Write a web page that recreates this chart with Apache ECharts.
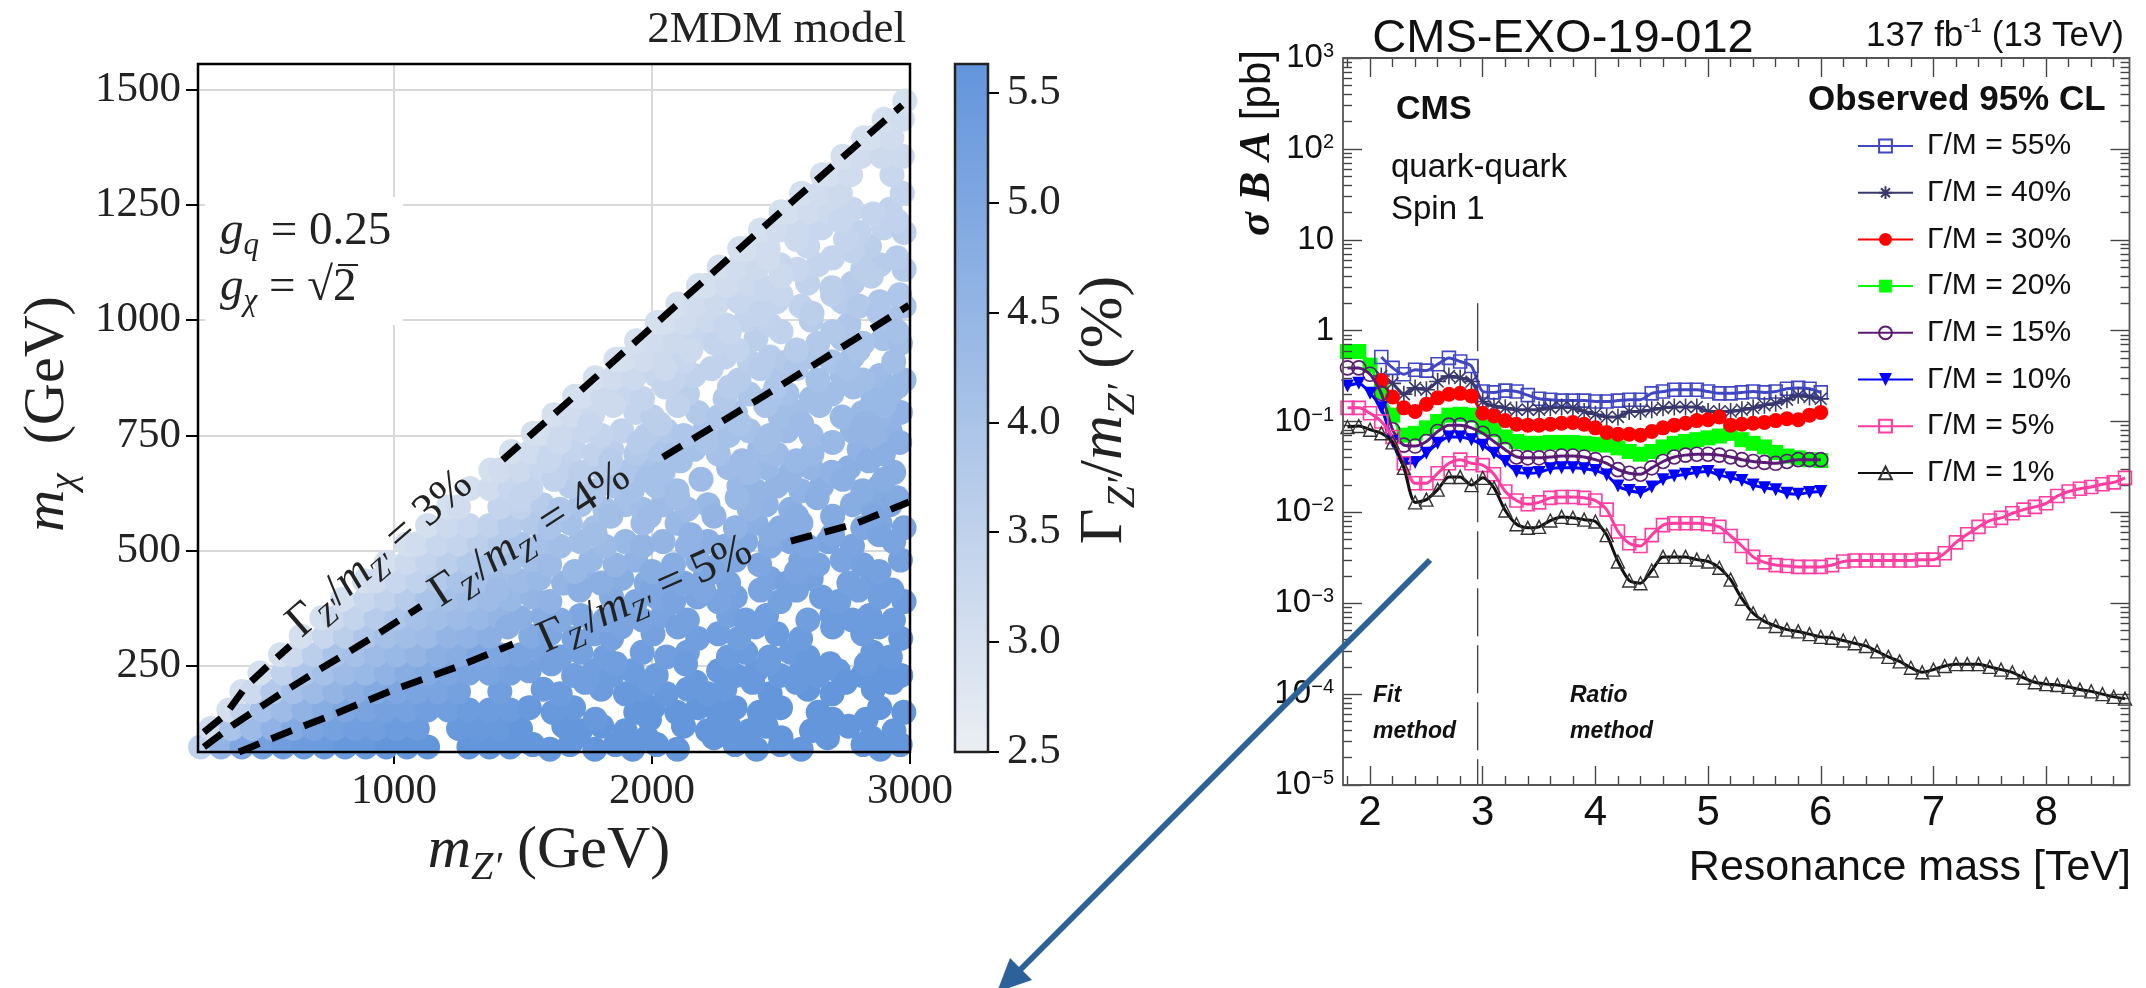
<!DOCTYPE html>
<html><head><meta charset="utf-8">
<style>html,body{margin:0;padding:0;background:#fff}#c{width:2146px;height:988px}</style>
<script src="https://cdn.jsdelivr.net/npm/echarts@6/dist/echarts.min.js"></script>
</head><body><div id="c"></div>
<script>
// ---------- left panel: 2MDM scan, each row: m_chi, then pairs m_Z', width(%)
const scanMchi=[75,80,70,115,120,110,155,160,150,195,200,190,235,240,230,275,280,270,315,320,310,355,360,350,395,400,390,435,440,430,475,480,470,515,520,510,555,560,550,595,600,590,635,640,630,675,680,670,715,720,710,755,760,750,795,800,790,835,840,830,875,880,870,915,920,910,955,960,950,995,1000,990,1035,1040,1030,1075,1080,1070,1115,1120,1110,1155,1160,1150,1195,1200,1190,1235,1240,1230,1275,1315,1355,1395,1435,1475,
95,135,215,255,335,415,455,535,575,615,655,695,735,775,815,855,895,935,975,1015,1055,1095,1135,1175,1215];
const scanPoints=[
[250,3.5,330,4.5,410,5.0,490,5.2,570,5.3,650,5.4,730,5.4,810,5.5,890,5.5,970,5.6,1050,5.6,1130,5.6,1290,5.6,1370,5.6,1450,5.6],
[1538,5.6,1682,5.6,1858,5.6,2018,5.6,2322,5.6,2498,5.6,2818,5.6,2962,5.6],
[1604,5.6,1778,5.6,1925,5.6,2098,5.6,2405,5.6,2578,5.6,2885,5.6],
[290,3.1,370,4.0,450,4.3,530,4.6,610,4.9,690,5.1,770,5.2,850,5.3,930,5.3,1010,5.4,1090,5.4,1250,5.5,1330,5.5,1410,5.5,1490,5.6],
[1658,5.6,1805,5.6,2122,5.6,2298,5.6,2442,5.6,2762,5.6,3005,5.6],
[1722,5.6,1896,5.6,2215,5.6,2378,5.6,2618,5.6,2938,5.6],
[360,3.0,410,3.5,490,4.1,570,4.3,650,4.6,730,4.8,810,5.0,890,5.1,970,5.2,1050,5.2,1130,5.3,1210,5.3,1290,5.4,1370,5.4,1450,5.4],
[1524,5.5,1696,5.5,2004,5.6,2178,5.6,2322,5.6,2498,5.6,2882,5.6],
[1616,5.5,1937,5.6,2096,5.6,2256,5.6,2416,5.6,2644,5.6,2976,5.6],
[410,3.0,450,3.2,530,3.8,610,4.1,690,4.3,770,4.5,850,4.7,930,4.9,1010,5.0,1090,5.1,1170,5.1,1250,5.2,1410,5.3],
[1578,5.4,1803,5.4,1962,5.5,2138,5.5,2282,5.5,2604,5.6,2858,5.6],
[1644,5.4,1897,5.5,2056,5.5,2216,5.5,2458,5.6,2698,5.6,3004,5.6],
[480,3.0,570,3.5,650,3.9,730,4.1,810,4.3,890,4.4,970,4.6,1050,4.8,1130,4.9,1210,5.0,1290,5.1,1370,5.1,1450,5.2],
[1524,5.2,1776,5.3,1924,5.4,2258,5.5,2404,5.5,2578,5.5,2722,5.5,2898,5.6],
[1696,5.3,1844,5.4,2016,5.4,2324,5.5,2496,5.5,2644,5.5,2816,5.6,2964,5.6],
[560,3.0,610,3.2,690,3.6,770,4.0,850,4.1,930,4.3,1010,4.4,1090,4.5,1170,4.7,1250,4.8,1330,5.0,1410,5.0,1490,5.1],
[1578,5.1,1724,5.2,1962,5.3,2137,5.3,2363,5.4,2538,5.4,2856,5.5,3004,5.5],
[1644,5.2,1817,5.3,2056,5.3,2296,5.4,2456,5.4,2604,5.5,2924,5.5],
[640,3.0,730,3.3,810,3.6,890,3.9,970,4.1,1050,4.2,1130,4.3,1210,4.5,1290,4.6,1370,4.7,1530,4.9],
[1604,5.0,1776,5.1,2004,5.2,2257,5.3,2484,5.4,2817,5.4],
[1697,5.1,1843,5.2,2177,5.3,2336,5.3,2576,5.4,2964,5.5],
[720,3.0,770,3.2,850,3.4,930,3.7,1010,3.9,1090,4.1,1170,4.2,1250,4.3,1330,4.4,1410,4.5,1490,4.7],
[1578,4.8,1723,5.0,1897,5.1,2043,5.1,2297,5.2,2444,5.3,2697,5.4,2844,5.4,3003,5.4],
[1644,4.9,1816,5.0,1963,5.1,2137,5.2,2363,5.3,2604,5.3,2776,5.4,2936,5.4],
[800,3.0,890,3.3,970,3.5,1050,3.7,1130,4.0,1210,4.1,1290,4.2,1370,4.3,1450,4.4],
[1537,4.5,1843,4.9,2017,5.0,2176,5.1,2323,5.2,2657,5.3,2884,5.3],
[1604,4.6,1937,5.0,2084,5.1,2257,5.1,2496,5.2,2724,5.3,2977,5.4],
[885,3.0,930,3.1,1010,3.3,1090,3.5,1170,3.8,1250,4.0,1330,4.1,1410,4.2,1490,4.3],
[1563,4.4,1737,4.6,1883,4.8,2057,5.0,2203,5.0,2457,5.1,2617,5.2,2857,5.3],
[1657,4.5,1803,4.7,1977,4.9,2123,5.0,2297,5.1,2524,5.2,2763,5.2,3003,5.3],
[970,3.0,1050,3.2,1130,3.4,1210,3.6,1290,3.8,1370,4.0,1450,4.1],
[1537,4.2,1763,4.4,1937,4.6,2177,4.8,2323,5.0,2577,5.1,2737,5.1,2963,5.2],
[1603,4.3,1857,4.5,2083,4.8,2256,4.9,2417,5.0,2643,5.1,2817,5.2],
[1050,3.0,1090,3.1,1170,3.3,1250,3.4,1330,3.6,1410,3.8,1490,4.0],
[1577,4.1,1723,4.2,1897,4.4,2043,4.5,2217,4.7,2363,4.9,2537,5.0,2683,5.1,2937,5.1],
[1643,4.2,1817,4.3,1963,4.5,2137,4.6,2283,4.8,2457,4.9,2603,5.0,2777,5.1,3003,5.2],
[1130,3.0,1210,3.2,1290,3.3,1370,3.5,1450,3.7],
[1537,3.8,1683,4.1,1965,4.3,2097,4.4,2403,4.7,2577,4.8,2883,5.0],
[1603,4.0,1777,4.1,2323,4.6,2497,4.8,2817,5.0,2977,5.1],
[1210,3.0,1250,3.1,1410,3.4,1490,3.5],
[1577,3.7,1723,4.0,1897,4.1,2043,4.3,2217,4.4,2443,4.6,2777,4.8,2923,5.0],
[1643,3.9,1817,4.1,1963,4.2,2137,4.3,2377,4.5,2537,4.7,2857,4.9,3003,5.0],
[1295,3.0,1370,3.1,1450,3.3,1530,3.4],
[1683,3.7,1857,4.0,2017,4.1,2337,4.4,2483,4.5,2657,4.7,2883,4.9],
[1777,3.9,1923,4.1,2097,4.2,2403,4.5,2577,4.6,2817,4.8],
[1375,3.0,1410,3.1,1490,3.2,1570,3.3],
[1657,3.5,1803,3.7,1977,4.0,2297,4.3,2443,4.4,2617,4.5,2763,4.7,3003,4.9],
[1723,3.6,1897,3.9,2043,4.1,2377,4.3,2537,4.5,2697,4.6,2937,4.8],
[1455,3.0,1530,3.1,1610,3.3],
[1697,3.4,1843,3.6,2017,3.9,2163,4.1,2417,4.3,2803,4.6],
[1777,3.5,1937,3.8,2083,4.0,2257,4.1,2483,4.3,2620,4.4,2897,4.7],
[1540,3.0,1570,3.0,1650,3.2],
[1737,3.3,1883,3.5,2057,3.8,2203,4.0,2377,4.1,2523,4.3,2777,4.5,2923,4.6],
[1803,3.4,1977,3.7,2123,3.9,2297,4.1,2457,4.2,2617,4.3,2857,4.5,3003,4.7],
[1620,3.0,1690,3.1,1770,3.2],
[1937,3.4,2177,3.8,2323,4.0,2563,4.2,2817,4.4,2963,4.6],
[2003,3.6,2257,3.9,2497,4.2,2737,4.4,2883,4.5],
[1700,3.0,1730,3.0,1810,3.2],
[1897,3.3,2137,3.6,2377,3.9,2523,4.1,2697,4.2,2923,4.4],
[1963,3.4,2283,3.8,2457,4.0,2617,4.2,2857,4.4,3003,4.5],
[1780,3.0,1850,3.1,1930,3.2],
[2017,3.3,2163,3.5,2497,3.9,2737,4.2,2883,4.3],
[2083,3.4,2337,3.7,2643,4.1,2817,4.2,2977,4.4],
[1860,3.0,1890,3.0,1970,3.1],
[2057,3.2,2283,3.5,2457,3.7,2617,3.9,2777,4.1,3003,4.3],
[2123,3.3,2377,3.6,2523,3.8,2697,4.0,2937,4.2],
[1940,3.0,2010,3.1,2090,3.2],
[2177,3.3,2403,3.6,2737,3.9,2897,4.1],
[2243,3.4,2643,3.8,2817,4.0,2963,4.2],
[2020,3.0,2050,3.0,2130,3.1],
[2217,3.2,2363,3.4,2617,3.7,2923,4.0],
[2283,3.3,2457,3.5,2763,3.9,3003,4.1],
[2100,3.0,2170,3.1,2250,3.2],
[2337,3.3,2483,3.4,2737,3.7,2883,3.9],
[2403,3.3,2577,3.5,2803,3.8,2977,4.0],
[2180,3.0,2210,3.0,2290,3.1],
[2377,3.2,2603,3.5,2777,3.7],
[2443,3.3,2697,3.6,3003,3.9],
[2260,3.0,2330,3.1,2410,3.2],
[2497,3.3,2643,3.4,2883,3.7],
[2563,3.3,2817,3.6,2977,3.8],
[2340,3.0,2370,3.0,2450,3.1],
[2603,3.3,2843,3.6],
[2777,3.5,3003,3.7],
[2420,3.0,2490,3.1,2570,3.2],
[2657,3.3,2897,3.5],
[2803,3.5,2977,3.6],
[2500,3.0,2530,3.0,2610,3.1,2690,3.2],
[2777,3.3,2923,3.5],
[2857,3.4,3003,3.6],
[2580,3.0,2650,3.1,2730,3.2,2970,3.4],
[2660,3.0,2690,3.0,2770,3.1,2930,3.3,3010,3.4],
[2740,3.0,2810,3.1,2890,3.2,2970,3.2],
[2820,3.0,2850,3.0,2930,3.1,3010,3.2],
[2900,3.0,2970,3.1],
[2980,3.0],
[1700,5.6,1980,5.6,2240,5.6,2500,5.6,2680,5.6,2850,5.6],
[1780,5.5,1990,5.6,2420,5.6,2700,5.6,2830,5.6],
[1740,5.3,1990,5.4,2170,5.5,2390,5.5,2560,5.5,2750,5.6,2930,5.6],
[1610,5.2,1860,5.3,2130,5.4,2450,5.4,2690,5.5,2830,5.5],
[1440,4.7,1880,5.1,2100,5.2,2400,5.3,2700,5.4,2880,5.4],
[1400,4.3,1720,4.7,2000,5.0,2200,5.0,2420,5.1,2560,5.2,2800,5.2,2930,5.3],
[1700,4.4,2000,4.8,2240,5.0,2560,5.1,2880,5.2],
[1780,4.2,2150,4.6,2460,4.8,2700,5.0,2880,5.1],
[1840,4.2,1990,4.3,2240,4.5,2560,4.8,2700,4.9,2860,5.0],
[1490,3.4,1760,3.9,2100,4.2,2330,4.4,2640,4.7,2950,4.9],
[1620,3.5,1980,4.1,2190,4.3,2530,4.5,2740,4.7,2900,4.8],
[1600,3.3,1840,3.7,2110,4.1,2350,4.3,2560,4.4,2840,4.7],
[1640,3.2,1950,3.7,2210,4.0,2440,4.2,2700,4.4,2960,4.7],
[1760,3.3,2030,3.6,2340,4.0,2580,4.3,2820,4.5],
[1850,3.2,2100,3.5,2440,4.0,2650,4.2,2900,4.4],
[2050,3.4,2300,3.7,2480,3.9,2780,4.2,2950,4.4],
[2050,3.2,2230,3.5,2420,3.7,2560,3.9,2760,4.1],
[2150,3.2,2330,3.4,2560,3.7,2800,4.0],
[2300,3.3,2500,3.5,2700,3.8,2950,4.1],
[2420,3.4,2620,3.6,2880,3.9],
[2500,3.3,2700,3.6,2960,3.9],
[2500,3.2,2850,3.6],
[2450,3.1,2700,3.4,2950,3.7],
[2560,3.2,2750,3.4],
[2730,3.3,2950,3.5]];
const contour3X=[263,345,424,523,597,null,1421,1994,2562,2970];
const contour3Y=[107,144,205,257,294,null,697,982,1266,1466];
const contour4X=[263,375,560,709,907,1104,null,2042,2438,2996];
const contour4Y=[75,122,190,242,309,380,null,703,837,1032];
const contour5X=[399,560,759,1004,1252,1461,null,2538,2786,2996];
const contour5Y=[64,101,144,200,250,298,null,521,558,606];
const scanXTicks=[1000,2000,3000];
const scanYTicks=[250,500,750,1000,1250,1500];
const colorbarTicks=[2.5,3.0,3.5,4.0,4.5,5.0,5.5];
// ---------- right panel: log10(limit in pb) at 0.1 TeV steps
const massX=[1.8,1.9,2.0,2.1,2.2,2.3,2.4,2.5,2.6,2.7,2.8,2.9,3.0,3.1,3.2,3.3,3.4,3.5,3.6,3.7,3.8,3.9,4.0,4.1,4.2,4.3,4.4,4.5,4.6,4.7,4.8,4.9,5.0,5.1,5.2,5.3,5.4,5.5,5.6,5.7,5.8,5.9,6.0,6.1,6.2,6.3,6.4,6.5,6.6,6.7,6.8,6.9,7.0,7.1,7.2,7.3,7.4,7.5,7.6,7.7,7.8,7.9,8.0,8.1,8.2,8.3,8.4,8.5,8.6,8.7];
const logLimit1=[-1.06,-1.05,-1.09,-1.13,-1.23,-1.51,-1.89,-1.86,-1.75,-1.61,-1.61,-1.70,-1.62,-1.73,-1.98,-2.13,-2.17,-2.16,-2.09,-2.05,-2.06,-2.08,-2.10,-2.25,-2.54,-2.75,-2.78,-2.64,-2.49,-2.49,-2.49,-2.52,-2.54,-2.61,-2.74,-2.95,-3.11,-3.20,-3.25,-3.29,-3.31,-3.34,-3.37,-3.38,-3.41,-3.44,-3.47,-3.53,-3.59,-3.64,-3.71,-3.76,-3.73,-3.69,-3.67,-3.67,-3.67,-3.70,-3.73,-3.76,-3.82,-3.87,-3.89,-3.90,-3.92,-3.95,-3.97,-4.00,-4.03,-4.05];
const logLimit5=[-0.85,-0.85,-0.91,-1.00,-1.17,-1.46,-1.68,-1.68,-1.57,-1.46,-1.42,-1.46,-1.48,-1.58,-1.77,-1.87,-1.91,-1.89,-1.84,-1.83,-1.83,-1.84,-1.87,-1.97,-2.21,-2.34,-2.37,-2.25,-2.14,-2.12,-2.12,-2.12,-2.13,-2.16,-2.26,-2.37,-2.49,-2.55,-2.58,-2.59,-2.60,-2.60,-2.60,-2.58,-2.54,-2.53,-2.53,-2.53,-2.53,-2.53,-2.53,-2.52,-2.52,-2.45,-2.33,-2.24,-2.16,-2.09,-2.06,-2.01,-1.97,-1.94,-1.90,-1.82,-1.77,-1.74,-1.72,-1.69,-1.67,-1.62];
const logLimit10=[-0.61,-0.58,-0.69,-0.85,-1.22,-1.46,-1.45,-1.35,-1.24,-1.17,-1.17,-1.20,-1.26,-1.35,-1.44,-1.55,-1.57,-1.56,-1.52,-1.51,-1.51,-1.52,-1.54,-1.59,-1.71,-1.76,-1.78,-1.72,-1.64,-1.60,-1.58,-1.56,-1.55,-1.59,-1.62,-1.65,-1.70,-1.73,-1.75,-1.79,-1.80,-1.78,-1.77];
const logLimit15=[-0.41,-0.41,-0.48,-0.69,-1.09,-1.26,-1.27,-1.22,-1.11,-1.04,-1.04,-1.07,-1.13,-1.22,-1.31,-1.39,-1.40,-1.40,-1.39,-1.38,-1.38,-1.39,-1.42,-1.46,-1.53,-1.57,-1.58,-1.51,-1.44,-1.39,-1.37,-1.36,-1.36,-1.37,-1.39,-1.42,-1.44,-1.45,-1.46,-1.44,-1.42,-1.42,-1.42];
const logLimit20=[-0.23,-0.23,-0.38,-0.67,-0.93,-1.15,-1.13,-1.07,-1.00,-0.93,-0.92,-0.93,-1.06,-1.09,-1.17,-1.22,-1.24,-1.24,-1.23,-1.23,-1.23,-1.24,-1.25,-1.26,-1.29,-1.33,-1.36,-1.33,-1.28,-1.24,-1.22,-1.20,-1.18,-1.16,-1.13,-1.20,-1.24,-1.28,-1.34,-1.38,-1.40,-1.42,-1.43];
const logLimit30=[-0.55,-0.73,-0.85,-0.89,-0.81,-0.74,-0.70,-0.69,-0.72,-0.91,-0.94,-0.99,-1.03,-1.04,-1.04,-1.03,-1.02,-1.01,-1.03,-1.07,-1.12,-1.14,-1.14,-1.15,-1.11,-1.07,-1.04,-1.02,-0.99,-0.98,-0.95,-1.04,-1.03,-1.02,-1.01,-0.99,-0.97,-0.98,-0.93,-0.90];
const logLimit40=[-0.50,-0.58,-0.70,-0.63,-0.65,-0.56,-0.50,-0.52,-0.56,-0.78,-0.83,-0.85,-0.87,-0.87,-0.87,-0.85,-0.84,-0.85,-0.89,-0.92,-0.95,-0.95,-0.89,-0.89,-0.87,-0.85,-0.84,-0.84,-0.84,-0.89,-0.89,-0.89,-0.87,-0.85,-0.82,-0.80,-0.76,-0.71,-0.73,-0.75];
const logLimit55=[-0.29,-0.41,-0.48,-0.43,-0.44,-0.37,-0.30,-0.34,-0.39,-0.67,-0.68,-0.66,-0.67,-0.71,-0.75,-0.76,-0.77,-0.77,-0.77,-0.78,-0.78,-0.77,-0.76,-0.76,-0.69,-0.67,-0.65,-0.65,-0.65,-0.67,-0.69,-0.69,-0.68,-0.67,-0.68,-0.67,-0.64,-0.63,-0.64,-0.68];
const widthNames=['Γ/M = 55%','Γ/M = 40%','Γ/M = 30%','Γ/M = 20%','Γ/M = 15%','Γ/M = 10%','Γ/M = 5%','Γ/M = 1%'];
const massMajorTicks=[2,3,4,5,6,7,8];
const massMinorTicks=[1.8,2.2,2.4,2.6,2.8,3.2,3.4,3.6,3.8,4.2,4.4,4.6,4.8,5.2,5.4,5.6,5.8,6.2,6.4,6.6,6.8,7.2,7.4,7.6,7.8,8.2,8.4,8.6];
const limitDecades=[1e-5,1e-4,1e-3,1e-2,1e-1,1,10,100,1000];
const limitMinorTicks=[];
const minorFactors=[2,3,4,5,6,7,8,9];
limitDecades.slice(0,-1).forEach(d=>minorFactors.forEach(f=>limitMinorTicks.push(+(d*f).toPrecision(3))));

const SERIF='Liberation Serif', SANS='Liberation Sans';
const pts=(arr,start)=>arr.map((v,i)=>[massX[i+start],Math.pow(10,v)]);
const contourData=(xs,ys)=>xs.map((x,i)=>x===null?['-','-']:[x,ys[i]]);
const scanData=[];
scanPoints.forEach((row,r)=>{for(let i=0;i<row.length;i+=2)scanData.push([row[i],scanMchi[r],row[i+1]]);});

const asterisk='path://M0 -10L0 10M-10 0L10 0M-7 -7L7 7M-7 7L7 -7';
function limitSeries(name,arr,start,color,symbol,size,hollow,extra){
  return Object.assign({type:'line',name,xAxisIndex:2,yAxisIndex:2,data:pts(arr,start),smooth:0.25,
    symbol,symbolSize:size,showSymbol:true,clip:true,silent:true,animation:false,
    lineStyle:{color,width:3},
    itemStyle:hollow?{color:'rgba(255,255,255,0)',borderColor:color,borderWidth:1.6}:{color,borderColor:color,borderWidth:0}},extra||{});
}
function contourSeries(xs,ys){
  return {type:'line',xAxisIndex:0,yAxisIndex:0,data:contourData(xs,ys),showSymbol:false,symbol:'none',
    silent:true,animation:false,z:4,connectNulls:false,lineStyle:{color:'#000',width:7,type:[22,13]}};
}
const leftAxisLabel={fontFamily:SERIF,fontSize:43,color:'#222'};
const hidden={show:false};
const exponentLabel=v=>{
  const e=Math.round(Math.log10(v));
  if(e===0)return '{b|1}';
  if(e===1)return '{b|10}';
  return '{b|10}{u|'+(e<0?'−'+(-e):e)+'}';
};
const option={
 animation:false,backgroundColor:'#fff',
 grid:[
  {left:198,top:64,width:712,height:688},
  {left:955,top:64,width:33,height:688},
  {left:1343,top:58,width:786.5,height:727}
 ],
 xAxis:[
  {gridIndex:0,type:'value',min:240,max:3000,position:'bottom',axisLine:hidden,
   axisTick:{show:true,length:12,lineStyle:{color:'#000',width:2},customValues:scanXTicks},
   axisLabel:{show:true,margin:18,customValues:scanXTicks,formatter:v=>String(v),...leftAxisLabel},
   splitLine:{show:true,lineStyle:{color:'#d9d9d9',width:2}}},
  {gridIndex:1,type:'category',data:['w'],show:false},
  {gridIndex:2,type:'value',min:1.76,max:8.74,position:'bottom',z:5,axisLine:hidden,splitLine:hidden,
   axisTick:{show:true,inside:true,length:19,lineStyle:{color:'#444',width:1.4},customValues:massMajorTicks},
   axisLabel:{show:true,margin:7,fontFamily:SANS,fontSize:42,color:'#111',customValues:massMajorTicks}},
  {gridIndex:2,type:'value',min:1.76,max:8.74,position:'bottom',z:5,axisLine:hidden,splitLine:hidden,axisLabel:hidden,
   axisTick:{show:true,inside:true,length:9,lineStyle:{color:'#444',width:1.4},customValues:massMinorTicks}},
  {gridIndex:2,type:'value',min:1.76,max:8.74,position:'top',z:5,axisLine:hidden,splitLine:hidden,axisLabel:hidden,
   axisTick:{show:true,inside:true,length:19,lineStyle:{color:'#444',width:1.4},customValues:massMajorTicks}},
  {gridIndex:2,type:'value',min:1.76,max:8.74,position:'top',z:5,axisLine:hidden,splitLine:hidden,axisLabel:hidden,
   axisTick:{show:true,inside:true,length:9,lineStyle:{color:'#444',width:1.4},customValues:massMinorTicks}}
 ],
 yAxis:[
  {gridIndex:0,type:'value',min:64,max:1555,position:'left',axisLine:hidden,
   axisTick:{show:true,length:12,lineStyle:{color:'#000',width:2},customValues:scanYTicks},
   axisLabel:{show:true,margin:17,customValues:scanYTicks,formatter:v=>String(v),...leftAxisLabel},
   splitLine:{show:true,lineStyle:{color:'#d9d9d9',width:2}}},
  {gridIndex:1,type:'value',min:2.5,max:5.63,position:'right',axisLine:hidden,splitLine:hidden,z:5,
   axisTick:{show:true,length:11,lineStyle:{color:'#000',width:2},customValues:colorbarTicks},
   axisLabel:{show:true,margin:19,customValues:colorbarTicks,formatter:v=>v.toFixed(1),...leftAxisLabel}},
  {gridIndex:2,type:'log',logBase:10,min:1e-5,max:1000,position:'left',z:5,axisLine:hidden,splitLine:hidden,
   axisTick:{show:true,inside:true,length:19,lineStyle:{color:'#444',width:1.4}},
   axisLabel:{show:true,margin:9,formatter:exponentLabel,rich:{b:{fontFamily:SANS,fontSize:33,color:'#111'},u:{fontFamily:SANS,fontSize:20,color:'#111',verticalAlign:'top',padding:[0,0,6,0]}}}},
  {gridIndex:2,type:'log',logBase:10,min:1e-5,max:1000,position:'left',z:5,axisLine:hidden,splitLine:hidden,axisLabel:hidden,
   axisTick:{show:true,inside:true,length:9,lineStyle:{color:'#444',width:1.4},customValues:limitMinorTicks}},
  {gridIndex:2,type:'log',logBase:10,min:1e-5,max:1000,position:'right',z:5,axisLine:hidden,splitLine:hidden,axisLabel:hidden,
   axisTick:{show:true,inside:true,length:19,lineStyle:{color:'#444',width:1.4}}},
  {gridIndex:2,type:'log',logBase:10,min:1e-5,max:1000,position:'right',z:5,axisLine:hidden,splitLine:hidden,axisLabel:hidden,
   axisTick:{show:true,inside:true,length:9,lineStyle:{color:'#444',width:1.4},customValues:limitMinorTicks}}
 ],
 visualMap:[{show:false,type:'continuous',seriesIndex:0,dimension:2,min:2.5,max:5.63,inRange:{color:['#ebeef3','#6395dc']}}],
 legend:{show:true,orient:'vertical',left:1852,top:126,itemWidth:55,itemHeight:16,itemGap:16.7,selectedMode:false,
   data:widthNames,textStyle:{fontFamily:SANS,fontSize:30,color:'#111',lineHeight:30,padding:[0,0,0,9]}},
 series:[
  {type:'scatter',xAxisIndex:0,yAxisIndex:0,data:scanData,symbolSize:25,itemStyle:{opacity:1},silent:true,animation:false,z:2,large:false,clip:true},
  contourSeries(contour3X,contour3Y),contourSeries(contour4X,contour4Y),contourSeries(contour5X,contour5Y),
  {type:'bar',xAxisIndex:1,yAxisIndex:1,data:[5.63],barWidth:'100%',silent:true,animation:false,
   itemStyle:{color:{type:'linear',x:0,y:0,x2:0,y2:1,colorStops:[{offset:0,color:'#6395dc'},{offset:1,color:'#ebeef3'}]}}},
  {type:'line',xAxisIndex:2,yAxisIndex:2,data:[[2.955,2],[2.955,1e-5]],symbol:'none',silent:true,animation:false,z:1,
   lineStyle:{color:'#444',width:1.4,type:[48,9]}},
  limitSeries(widthNames[3],logLimit20,0,'#00ff00','rect',15,false,{z:2}),
  limitSeries(widthNames[0],logLimit55,3,'#4046c4','rect',13,true,{z:3}),
  limitSeries(widthNames[1],logLimit40,3,'#38386e',asterisk,17,true,{z:3}),
  limitSeries(widthNames[2],logLimit30,3,'#ff0000','circle',15,false,{z:3}),
  limitSeries(widthNames[4],logLimit15,0,'#5a1b74','circle',14,true,{z:4}),
  limitSeries(widthNames[5],logLimit10,0,'#0000ff','path://M-10 -9L10 -9L0 9Z',13,false,{z:4}),
  limitSeries(widthNames[6],logLimit5,0,'#ff3da0','rect',13,true,{z:5}),
  limitSeries(widthNames[7],logLimit1,0,'#111111','triangle',13,true,{z:6,itemStyle:{color:'rgba(255,255,255,0)',borderColor:'#333',borderWidth:1.4}})
 ],
 graphic:[
  {type:'rect',z:50,shape:{x:205,y:197,width:198,height:128},style:{fill:'#fff'}},
  {type:'rect',z:60,silent:true,shape:{x:198,y:64,width:712,height:688},style:{fill:'none',stroke:'#000',lineWidth:2.5}},
  {type:'rect',z:60,silent:true,shape:{x:955,y:64,width:33,height:688},style:{fill:'none',stroke:'#222',lineWidth:2.5}},
  {type:'rect',z:60,silent:true,shape:{x:1343,y:58,width:786.5,height:727},style:{fill:'none',stroke:'#555',lineWidth:1.8}},
  txt(906,30,'2MDM model',{font:'45px '+SERIF,fill:'#222',textAlign:'right'}),
  rich(220,232,'{i|g}{s|q}{r| = 0.25}',gRich(47,31),0,'left'),
  rich(220,288,'{i|g}{s|χ}{r| = √2}',gRich(47,31),0,'left'),
  {type:'line',z:65,shape:{x1:338,y1:265,x2:358,y2:265},style:{stroke:'#222',lineWidth:2}},
  rich(48,414,'{i|m}{s|χ}{r|  (GeV)}',mathRich(58,38),Math.PI/2),
  rich(549,851,'{i|m}{s|Z′}{r| (GeV)}',mathRich(60,40),0),
  rich(1105,410,'{r|Γ}{s|Z′}{r|/}{i|m}{s|Z′}{r| (%)}',mathRich(62,40),Math.PI/2),
  rich(380,554,'{r|Γ}{s|Z′}{r|/}{i|m}{s|Z′}{r| = 3%}',mathRich(46,30),41*Math.PI/180),
  rich(530,535,'{r|Γ}{s|Z′}{r|/}{i|m}{s|Z′}{r| = 4%}',mathRich(46,30),33*Math.PI/180),
  rich(645,595,'{r|Γ}{s|Z′}{r|/}{i|m}{s|Z′}{r| = 5%}',mathRich(46,30),24*Math.PI/180),
  txt(1563,39,'CMS-EXO-19-012',{font:'47px '+SANS,fill:'#111'}),
  rich(2124,36,'{r|137 fb}{u|-1}{r| (13 TeV)}',{r:{fontFamily:SANS,fontSize:35,fill:'#111',lineHeight:40},u:{fontFamily:SANS,fontSize:21,fill:'#111',verticalAlign:'top',lineHeight:40}},0,'right'),
  txt(1396,110,'CMS',{font:'bold 34px '+SANS,fill:'#111',textAlign:'left'}),
  txt(1391,168,'quark-quark',{font:'33px '+SANS,fill:'#111',textAlign:'left'}),
  txt(1391,210,'Spin 1',{font:'33px '+SANS,fill:'#111',textAlign:'left'}),
  txt(1808,100,'Observed 95% CL',{font:'bold 35px '+SANS,fill:'#111',textAlign:'left'}),
  txt(1373,696,'Fit',{font:'italic bold 23px '+SANS,fill:'#111',textAlign:'left'}),
  txt(1373,732,'method',{font:'italic bold 23px '+SANS,fill:'#111',textAlign:'left'}),
  txt(1570,696,'Ratio',{font:'italic bold 23px '+SANS,fill:'#111',textAlign:'left'}),
  txt(1570,732,'method',{font:'italic bold 23px '+SANS,fill:'#111',textAlign:'left'}),
  txt(2131,868,'Resonance mass [TeV]',{font:'43px '+SANS,fill:'#111',textAlign:'right'}),
  rich(1258,143,'{g|σ}{s|  }{g|B}{s|  }{g|A}{s|  }{r|[pb]}',{g:{fontFamily:SERIF,fontStyle:'italic',fontWeight:'bold',fontSize:44,fill:'#111'},s:{fontSize:20},r:{fontFamily:SANS,fontSize:42,fill:'#111'}},Math.PI/2),
  {type:'line',z:70,shape:{x1:1430,y1:560,x2:1018,y2:972},style:{stroke:'#2c6299',lineWidth:6}},
  {type:'polygon',z:70,shape:{points:[[1010,958],[1032,980],[997,992]]},style:{fill:'#2c6299'}}
 ]
};
function txt(x,y,text,style){return {type:'text',z:65,x,y,silent:true,style:Object.assign({text,textAlign:'center',textVerticalAlign:'middle'},style)};}
function rich(x,y,text,richStyle,rot,align){return {type:'text',z:65,x,y,rotation:rot||0,silent:true,style:{text,rich:richStyle,textAlign:align||'center',textVerticalAlign:'middle'}};}
function mathRich(big,small){const lh=big*1.25;return {
  i:{fontFamily:SERIF,fontStyle:'italic',fontSize:big,lineHeight:lh,fill:'#222'},
  r:{fontFamily:SERIF,fontSize:big,lineHeight:lh,fill:'#222'},
  s:{fontFamily:SERIF,fontStyle:'italic',fontSize:small,lineHeight:lh,fill:'#222',verticalAlign:'bottom'}};}
function gRich(big,small){return mathRich(big,small);}
const chart=echarts.init(document.getElementById('c'),null,{renderer:'canvas'});
chart.setOption(option);
</script></body></html>
